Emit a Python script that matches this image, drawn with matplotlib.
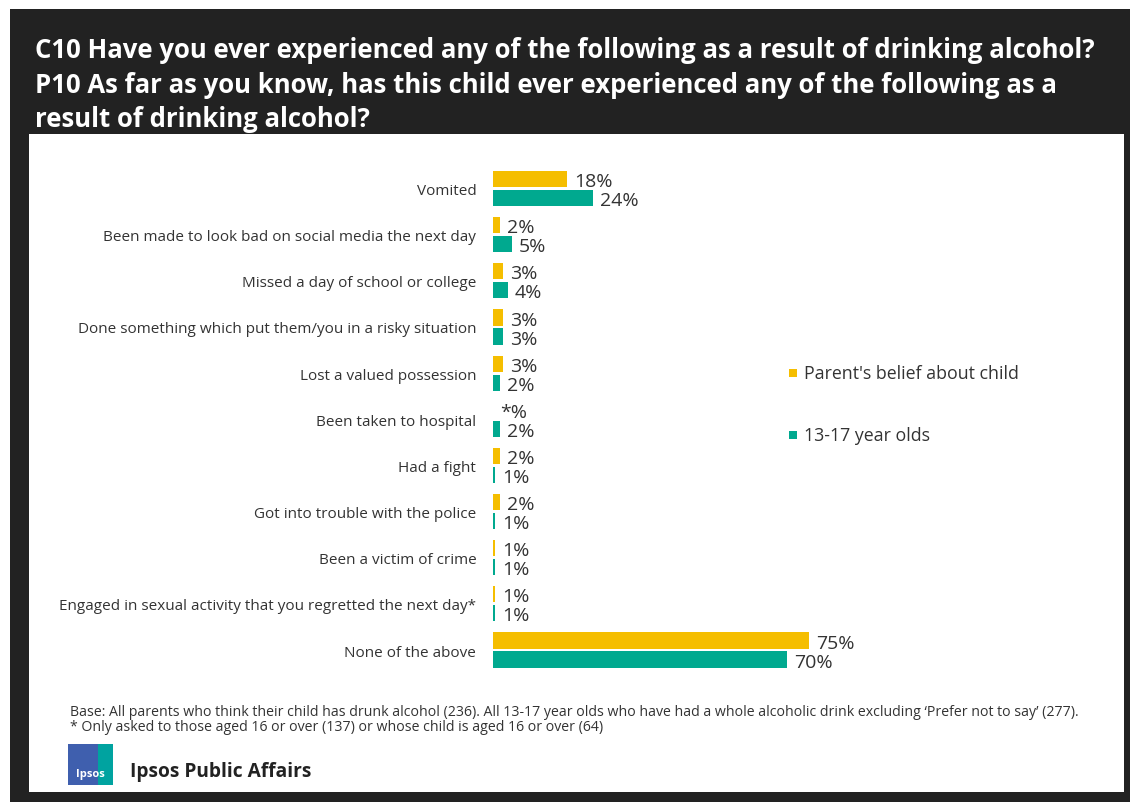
import matplotlib.pyplot as plt
from matplotlib.patches import Rectangle

plt.rcParams['font.family'] = ['Open Sans', 'DejaVu Sans']

# data
categories = [
    'Vomited',
    'Been made to look bad on social media the next day',
    'Missed a day of school or college',
    'Done something which put them/you in a risky situation',
    'Lost a valued possession',
    'Been taken to hospital',
    'Had a fight',
    'Got into trouble with the police',
    'Been a victim of crime',
    'Engaged in sexual activity that you regretted the next day*',
    'None of the above',
]
parent_vals = [17.6, 1.6, 2.4, 2.4, 2.4, 0.0, 1.6, 1.6, 0.5, 0.5, 75.0]
teen_vals = [23.8, 4.5, 3.6, 2.4, 1.6, 1.6, 0.5, 0.5, 0.5, 0.5, 69.8]
parent_labels = ['18%', '2%', '3%', '3%', '3%', '*%', '2%', '2%', '1%', '1%', '75%']
teen_labels = ['24%', '5%', '4%', '3%', '2%', '2%', '1%', '1%', '1%', '1%', '70%']
series_names = ["Parent's belief about child", '13-17 year olds']

YELLOW = '#F5BE00'
TEAL = '#00A98F'
DARK = '#222222'
TEXT = '#333333'

W, H = 1130, 803
fig = plt.figure(figsize=(W / 100, H / 100), dpi=100)
fig.patch.set_facecolor('white')


def fx(x):
    return x / W


def fy(y):
    return 1 - y / H


# dark frame and white panel
fig.patches.append(Rectangle((fx(10), 0), fx(W - 10), fy(10), transform=fig.transFigure,
                             facecolor=DARK, edgecolor='none', zorder=-2))
fig.patches.append(Rectangle((fx(29), fy(793)), fx(1124 - 29), (793 - 135) / H,
                             transform=fig.transFigure, facecolor='white',
                             edgecolor='none', zorder=-1))

title = ('C10 Have you ever experienced any of the following as a result of drinking alcohol?\n'
         'P10 As far as you know, has this child ever experienced any of the following as a\n'
         'result of drinking alcohol?')
fig.text(fx(35), fy(37), title, color='white', fontsize=18.5, fontweight='bold',
         va='top', ha='left', linespacing=1.36)

# bar chart
top, bottom = 166.4, 674.1
ax = fig.add_axes([fx(493), fy(bottom), 421 / W, (bottom - top) / H])
ax.set_zorder(5)
ax.set_xlim(0, 100)
ax.set_ylim(len(categories) - 0.5, -0.5)
for s in ax.spines.values():
    s.set_visible(False)
ax.set_facecolor('none')

y = list(range(len(categories)))
off, bh = 0.206, 0.35
yp = [v - off for v in y]
yt = [v + off for v in y]
ax.barh(yp, parent_vals, height=bh, color=YELLOW)
ax.barh(yt, teen_vals, height=bh, color=TEAL)

for yy, v, lab in zip(yp, parent_vals, parent_labels):
    ax.annotate(lab, (v, yy), xytext=(5, -1.5), textcoords='offset points',
                va='center', ha='left', fontsize=14, color=TEXT)
for yy, v, lab in zip(yt, teen_vals, teen_labels):
    ax.annotate(lab, (v, yy), xytext=(5, -1.5), textcoords='offset points',
                va='center', ha='left', fontsize=14, color=TEXT)

ax.set_yticks(y)
ax.set_yticklabels(categories, fontsize=11, color=TEXT)
ax.tick_params(axis='y', length=0, pad=12)
ax.set_xticks([])

# legend
for ly, name, col in zip([374, 436], series_names, [YELLOW, TEAL]):
    fig.patches.append(Rectangle((fx(789), fy(ly + 4)), 8 / W, 8 / H, transform=fig.transFigure,
                                 facecolor=col, edgecolor='none', zorder=3))
    fig.text(fx(804), fy(ly), name, fontsize=12.75, color=TEXT, va='center', ha='left')

# footnote
note = ("Base: All parents who think their child has drunk alcohol (236). All 13-17 year olds who have had a "
        "whole alcoholic drink excluding \u2018Prefer not to say\u2019 (277).\n"
        "* Only asked to those aged 16 or over (137) or whose child is aged 16 or over (64)")
fig.text(fx(70), fy(705), note, fontsize=10.15, color=TEXT, va='top', ha='left', linespacing=1.0)

# logo
fig.patches.append(Rectangle((fx(68), fy(786)), 30 / W, 41 / H, transform=fig.transFigure,
                             facecolor='#3F5FAE', edgecolor='none', zorder=3))
fig.patches.append(Rectangle((fx(98), fy(786)), 15 / W, 41 / H, transform=fig.transFigure,
                             facecolor='#00A3A0', edgecolor='none', zorder=3))
fig.text(fx(90.5), fy(775), 'Ipsos', fontsize=8, color='white', fontweight='bold',
         ha='center', va='center')
fig.text(fx(130), fy(772), 'Ipsos Public Affairs', fontsize=13.8, color='#222222',
         fontweight='bold', ha='left', va='center')

fig.savefig('out.png', dpi=100, facecolor=fig.get_facecolor())
